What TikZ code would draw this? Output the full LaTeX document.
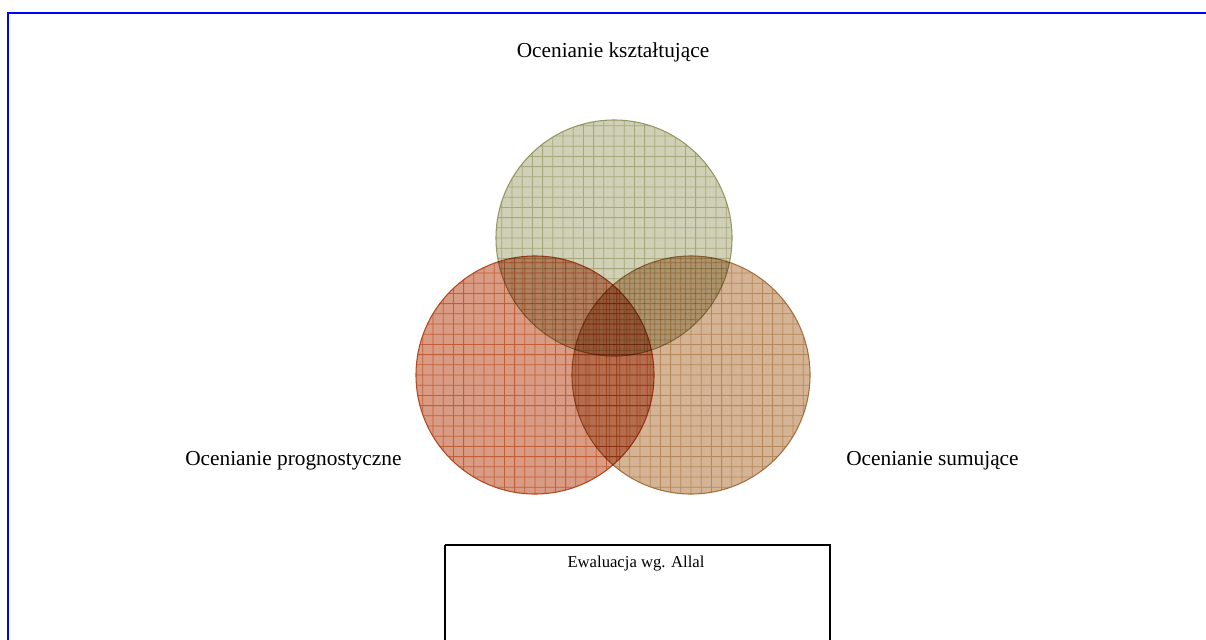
\documentclass[tikz,border=0pt]{standalone}
\usepackage{fontspec}
\setmainfont{Liberation Serif}
\begin{document}
\begin{tikzpicture}[x=0.75pt,y=-0.75pt,
  lbl/.style={font=\fontsize{16}{18}\selectfont, inner sep=0pt},
  small/.style={font=\fontsize{12.5}{14}\selectfont, inner sep=0pt}]
\useasboundingbox (0,0) rectangle (1206,639);
\draw[blue, line width=1.5] (8,13) rectangle (1230,680);
\definecolor{topfill}{RGB}{208,208,182}
\definecolor{topline}{RGB}{165,168,122}
\definecolor{topedge}{RGB}{150,150,100}
\definecolor{leftfill}{RGB}{217,155,132}
\definecolor{leftline}{RGB}{192,95,55}
\definecolor{leftedge}{RGB}{180,70,30}
\definecolor{rightfill}{RGB}{213,180,150}
\definecolor{rightline}{RGB}{182,135,88}
\definecolor{rightedge}{RGB}{165,110,60}
\newcommand{\gridcircle}[6]{%
  \begin{scope}[blend mode=multiply]
  \begin{scope}[transparency group]
  \begin{scope}
  \clip (#1,#2) circle (#3);
  \fill[#4] (#1,#2) circle (#3);
  \foreach \k in {-12,...,12} {
    \draw[#5, line width=0.6] ({#1+\k*10.2},{#2-#3}) -- ({#1+\k*10.2},{#2+#3});
    \draw[#5, line width=0.6] ({#1-#3},{#2+\k*10.2}) -- ({#1+#3},{#2+\k*10.2});
  }
  \end{scope}
  \draw[#6, line width=0.8] (#1,#2) circle (#3);
  \end{scope}
  \end{scope}}
\gridcircle{614}{238}{118}{topfill}{topline}{topedge}
\gridcircle{535}{375}{119}{leftfill}{leftline}{leftedge}
\gridcircle{691}{375}{119}{rightfill}{rightline}{rightedge}
\node[lbl] (t1) at (613,52) {Ocenianie kształtujące};
\node[lbl, anchor=west] (t2) at (185,461) {Ocenianie prognostyczne};
\node[lbl, anchor=west] (t3) at (846,461) {Ocenianie sumujące};
\draw[black, line width=1.5] (445,545) -- (445,660) (445,545) -- (830,545) -- (830,660);
\node[small] (t4) at (636,564) {Ewaluacja wg. Allal};
\end{tikzpicture}
\end{document}
